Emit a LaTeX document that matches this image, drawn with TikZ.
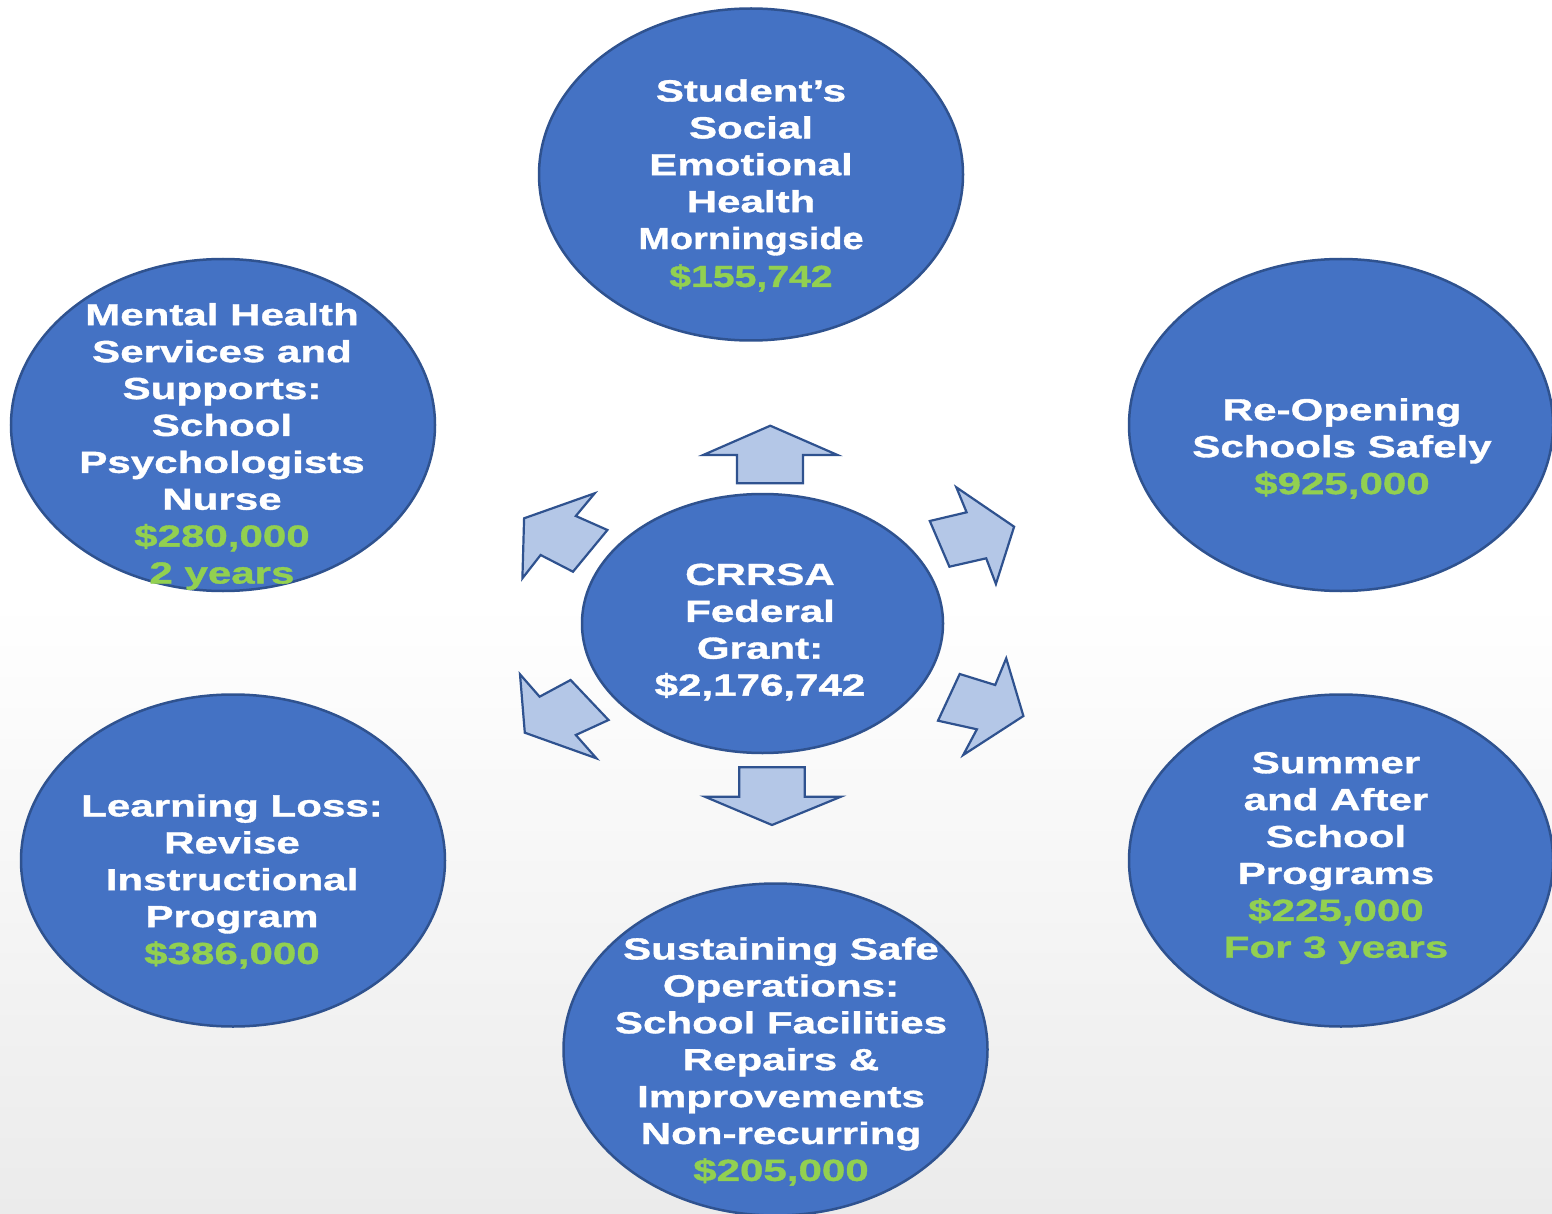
\documentclass[tikz,border=0pt]{standalone}
\usepackage{fontspec}
\setmainfont{Liberation Sans}[FakeStretch=1.38,FakeBold=1.2]
\usetikzlibrary{shapes.geometric}
\definecolor{bubblefill}{HTML}{4472C4}
\definecolor{bubbleline}{HTML}{2F528F}
\definecolor{arrowfill}{HTML}{B4C7E7}
\definecolor{moneygreen}{HTML}{92D050}
\definecolor{bggray}{HTML}{EBEBEB}
\tikzset{
  bubble/.style={ellipse, draw=bubbleline, fill=bubblefill, line width=2.5pt, inner sep=0pt, minimum width=424pt, minimum height=332pt},
  hub/.style={bubble, minimum width=361pt, minimum height=259pt},
  bubbletext/.style={text=white, align=center, inner sep=0pt, font=\fontsize{30.5}{36.9}\selectfont\bfseries},
  fatarrow/.style={draw=bubbleline, fill=arrowfill, line width=2.2pt, line join=miter}
}
\newcommand{\money}[1]{\textcolor{moneygreen}{#1}}
\begin{document}
\begin{tikzpicture}[x=1pt,y=-1pt]
\useasboundingbox (0,0) rectangle (1552,1214);
\fill[white] (0,0) rectangle (1552,1214);
\shade[top color=white, bottom color=bggray] (0,600) rectangle (1552,1214);

% bubbles
\node[bubble] (sel) at (751,174.5) {};
\node[bubble] (mh) at (223,425) {};
\node[bubble] (ros) at (1341,425) {};
\node[bubble] (ll) at (233,860.5) {};
\node[bubble] (sas) at (1341,860.5) {};
\node[bubble] (sso) at (775.5,1049.5) {};
\node[hub] (hub) at (762.5,623.5) {};

% arrows
\draw[fatarrow] (770.3,425.7) -- (837.5,455) -- (803.0,455) -- (803.0,483.3) -- (736.9,483.3) -- (736.9,455) -- (703.2,455) -- cycle;
\draw[fatarrow] (739.3,767.3) -- (804.8,767.3) -- (804.8,796.7) -- (840.9,796.7) -- (772.0,825) -- (704.9,796.7) -- (739.3,796.7) -- cycle;
\draw[fatarrow] (594.7,493.3) -- (524.1,518.3) -- (522.4,578.3) -- (540.6,555) -- (573.0,571.7) -- (607.4,530) -- (575.8,516) -- cycle;
\draw[fatarrow] (520.0,674.3) -- (539.6,696.7) -- (570.6,680) -- (608.5,720) -- (575.8,735) -- (596.4,758.3) -- (524.8,732.7) -- cycle;
\draw[fatarrow] (956.3,487.3) -- (1014.1,526.7) -- (995.9,584) -- (986.2,558.3) -- (949.4,566.7) -- (929.8,521) -- (966.6,512.3) -- cycle;
\draw[fatarrow] (1006.2,658.3) -- (1023.4,716) -- (963.2,755) -- (976.9,729.3) -- (938.0,720.7) -- (959.7,674) -- (995.2,685) -- cycle;

% texts
\node[bubbletext] (tsel) at (751,185.5) {Student’s\\Social\\Emotional\\Health\\\scalebox{0.9}[1]{Morningside}\\[1pt]\money{\scalebox{0.93}[1]{\$155,742}}};
\node[bubbletext] (tmh) at (222,446.5) {Mental Health\\Services and\\Supports:\\School\\Psychologists\\Nurse\\\money{\$280,000}\\\money{2 years}};
\node[bubbletext] (tros) at (1342,448.5) {Re-Opening\\Schools Safely\\\money{\$925,000}};
\node[bubbletext] (thub) at (760,632) {CRRSA\\Federal\\Grant:\\\$2,176,742};
\node[bubbletext] (tll) at (232,881.5) {Learning Loss:\\Revise\\Instructional\\Program\\\money{\$386,000}};
\node[bubbletext] (tsas) at (1336,858) {Summer\\and After\\School\\Programs\\\money{\$225,000}\\\money{For 3 years}};
\node[bubbletext] (tsso) at (781,1061.5) {Sustaining Safe\\Operations:\\School Facilities\\Repairs \&\\Improvements\\Non-recurring\\\money{\$205,000}};
\end{tikzpicture}
\end{document}
